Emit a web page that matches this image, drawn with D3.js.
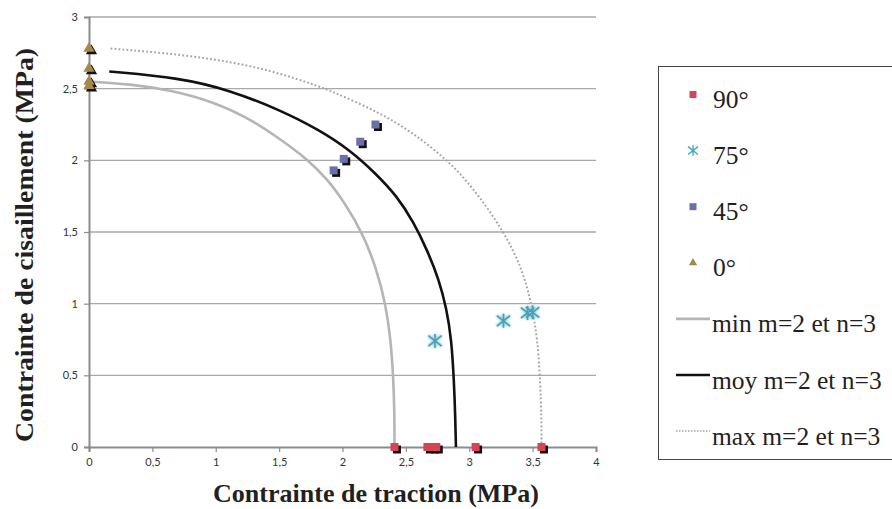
<!DOCTYPE html>
<html><head><meta charset="utf-8">
<script src="https://cdn.jsdelivr.net/npm/d3@7"></script>
<style>body{margin:0;background:#fff}svg{display:block}</style>
</head><body>
<svg id="c" width="892" height="509"></svg>
<script>
// ---- data ----
const xTicks = [0, 0.5, 1, 1.5, 2, 2.5, 3, 3.5, 4];
const yTicks = [0, 0.5, 1, 1.5, 2, 2.5, 3];
const s90x = [2.41, 2.67, 2.71, 2.74, 3.05, 3.57];
const s90y = [0, 0, 0, 0, 0, 0];
const s75x = [2.73, 3.27, 3.46, 3.50];
const s75y = [0.74, 0.88, 0.935, 0.94];
const s45x = [1.93, 2.01, 2.14, 2.26];
const s45y = [1.93, 2.01, 2.13, 2.25];
const s0x = [0, 0, 0, 0];
const s0y = [2.78, 2.64, 2.55, 2.52];
const minX = [0.00, 0.35, 0.64, 0.98, 1.29, 1.52, 1.72, 1.88, 2.02, 2.16, 2.27, 2.34, 2.38, 2.40, 2.41, 2.41];
const minY = [2.55, 2.53, 2.49, 2.41, 2.28, 2.14, 2.01, 1.87, 1.70, 1.49, 1.24, 1.00, 0.75, 0.50, 0.25, 0.00];
const moyX = [0.16, 0.72, 1.11, 1.51, 1.82, 2.06, 2.26, 2.43, 2.56, 2.67, 2.76, 2.82, 2.86, 2.88, 2.89, 2.895];
const moyY = [2.62, 2.575, 2.49, 2.35, 2.21, 2.07, 1.91, 1.75, 1.57, 1.37, 1.17, 0.97, 0.75, 0.45, 0.20, 0.00];
const maxX = [0.17, 0.72, 1.25, 1.64, 1.90, 2.30, 2.56, 2.83, 3.03, 3.27, 3.42, 3.49, 3.54, 3.56, 3.57, 3.57];
const maxY = [2.78, 2.74, 2.67, 2.57, 2.49, 2.33, 2.19, 2.00, 1.81, 1.51, 1.24, 1.00, 0.75, 0.45, 0.20, 0.00];
const legendLabels = ["90°", "75°", "45°", "0°", "min m=2 et n=3", "moy m=2 et n=3", "max m=2 et n=3"];

const svg = d3.select("#c");
const x = d3.scaleLinear().domain([0, 4]).range([89, 596]);
const y = d3.scaleLinear().domain([0, 3]).range([447, 17]);
const fmt = d => String(d).replace(".", ",");
const serif = "'Liberation Serif', 'Times New Roman', serif";

// grid
svg.append("g").selectAll("line").data(yTicks.filter(d => d > 0)).join("line")
  .attr("x1", x(0)).attr("x2", x(4)).attr("y1", d => y(d)).attr("y2", d => y(d))
  .attr("stroke", "#a8a8a8").attr("stroke-width", 1.3);

// axes
const gx = svg.append("g").attr("transform", `translate(0,${y(0)})`)
  .call(d3.axisBottom(x).tickValues(xTicks).tickFormat(fmt).tickSize(5).tickPadding(6));
const gy = svg.append("g").attr("transform", `translate(${x(0)},0)`)
  .call(d3.axisLeft(y).tickValues(yTicks).tickFormat(fmt).tickSize(5).tickPadding(6));
[gx, gy].forEach(g => {
  g.select(".domain").attr("stroke", "#8c8c8c").attr("stroke-width", 2);
  g.selectAll(".tick line").attr("stroke", "#8c8c8c").attr("stroke-width", 1.2);
  g.selectAll("text").attr("font-family", "Lato, 'Open Sans', sans-serif").attr("font-size", 11).attr("fill", "#333");
});

// curves
const line = d3.line().x(d => x(d[0])).y(d => y(d[1])).curve(d3.curveBasis);
svg.append("path").attr("d", line(d3.zip(minX, minY))).attr("fill", "none")
  .attr("stroke", "#b5b5b5").attr("stroke-width", 2.6);
svg.append("path").attr("d", line(d3.zip(maxX, maxY))).attr("fill", "none")
  .attr("stroke", "#a5a5a5").attr("stroke-width", 2).attr("stroke-dasharray", "1.8,2.2");
svg.append("path").attr("d", line(d3.zip(moyX, moyY))).attr("fill", "none")
  .attr("stroke", "#111").attr("stroke-width", 2.6);

// markers
const defs = svg.append("defs");
defs.append("filter").attr("id", "glow").attr("x", "-50%").attr("y", "-50%").attr("width", "200%").attr("height", "200%")
  .append("feGaussianBlur").attr("stdDeviation", 0.9);

function markers(xs, ys, type, size, fill, shadow) {
  const pts = d3.zip(xs, ys);
  const sym = d3.symbol(type, size);
  if (shadow) {
    svg.append("g").selectAll("path").data(pts).join("path")
      .attr("d", sym).attr("transform", d => `translate(${x(d[0]) + 2.5},${y(d[1]) + 2.5})`)
      .attr("fill", "#111");
  }
  svg.append("g").selectAll("path").data(pts).join("path")
    .attr("d", sym).attr("transform", d => `translate(${x(d[0])},${y(d[1])})`)
    .attr("fill", fill);
}
markers(s90x, s90y, d3.symbolSquare, 64, "#d64458", true);
markers(s45x, s45y, d3.symbolSquare, 64, "#6c70a8", true);
markers(s0x, s0y, d3.symbolTriangle, 55, "#a4884c", true);

// asterisk symbol: vertical bar with an X
const starX = {
  draw(ctx, size) {
    const r = Math.sqrt(size) / 2;
    ctx.moveTo(0, -r); ctx.lineTo(0, r);
    ctx.moveTo(-r * 0.95, -r * 0.75); ctx.lineTo(r * 0.95, r * 0.75);
    ctx.moveTo(-r * 0.95, r * 0.75); ctx.lineTo(r * 0.95, -r * 0.75);
  }
};
const ast = d3.symbol(starX, 196);
const p75 = d3.zip(s75x, s75y);
svg.append("g").selectAll("path").data(p75).join("path")
  .attr("d", ast).attr("transform", d => `translate(${x(d[0])},${y(d[1])})`)
  .attr("fill", "none").attr("stroke", "#a8d6e0").attr("stroke-width", 3.5).attr("filter", "url(#glow)");
svg.append("g").selectAll("path").data(p75).join("path")
  .attr("d", ast).attr("transform", d => `translate(${x(d[0])},${y(d[1])})`)
  .attr("fill", "none").attr("stroke", "#4a9fb4").attr("stroke-width", 1.6);

// axis titles
svg.append("text").attr("x", 376).attr("y", 502).attr("text-anchor", "middle")
  .attr("font-family", serif).attr("font-weight", "bold")
  .attr("font-size", 26).attr("fill", "#231f20")
  .attr("textLength", 326).attr("lengthAdjust", "spacingAndGlyphs")
  .text("Contrainte de traction (MPa)");
svg.append("text").attr("transform", "translate(33,245) rotate(-90)").attr("text-anchor", "middle")
  .attr("font-family", serif).attr("font-weight", "bold")
  .attr("font-size", 26).attr("fill", "#231f20")
  .attr("textLength", 394).attr("lengthAdjust", "spacingAndGlyphs")
  .text("Contrainte de cisaillement (MPa)");

// legend
const lg = svg.append("g");
lg.append("rect").attr("x", 658.5).attr("y", 66.5).attr("width", 260).attr("height", 393)
  .attr("fill", "#fff").attr("stroke", "#444").attr("stroke-width", 1);
const ly = i => 94.5 + i * 56.1;
lg.selectAll("text").data(legendLabels).join("text")
  .attr("x", (d, i) => i < 4 ? 713 : 712).attr("y", (d, i) => ly(i) + 13.5)
  .attr("font-family", serif).attr("font-size", 25.5)
  .attr("fill", "#231f20").text(d => d);
lg.append("path").attr("d", d3.symbol(d3.symbolSquare, 49)).attr("transform", `translate(693,${ly(0)})`).attr("fill", "#d64458");
lg.append("path").attr("d", d3.symbol(starX, 110)).attr("transform", `translate(693,${ly(1)})`)
  .attr("fill", "none").attr("stroke", "#3fa9c0").attr("stroke-width", 1.4);
lg.append("path").attr("d", d3.symbol(d3.symbolSquare, 49)).attr("transform", `translate(693,${ly(2)})`).attr("fill", "#6c70a8");
lg.append("path").attr("d", d3.symbol(d3.symbolTriangle, 30)).attr("transform", `translate(693,${ly(3)})`).attr("fill", "#a4884c");
lg.append("line").attr("x1", 676).attr("x2", 710).attr("y1", ly(4)).attr("y2", ly(4)).attr("stroke", "#b5b5b5").attr("stroke-width", 2.6);
lg.append("line").attr("x1", 676).attr("x2", 710).attr("y1", ly(5)).attr("y2", ly(5)).attr("stroke", "#111").attr("stroke-width", 2.6);
lg.append("line").attr("x1", 676).attr("x2", 710).attr("y1", ly(6)).attr("y2", ly(6)).attr("stroke", "#a5a5a5").attr("stroke-width", 1.5).attr("stroke-dasharray", "1.5,1.5");
</script>
</body></html>
